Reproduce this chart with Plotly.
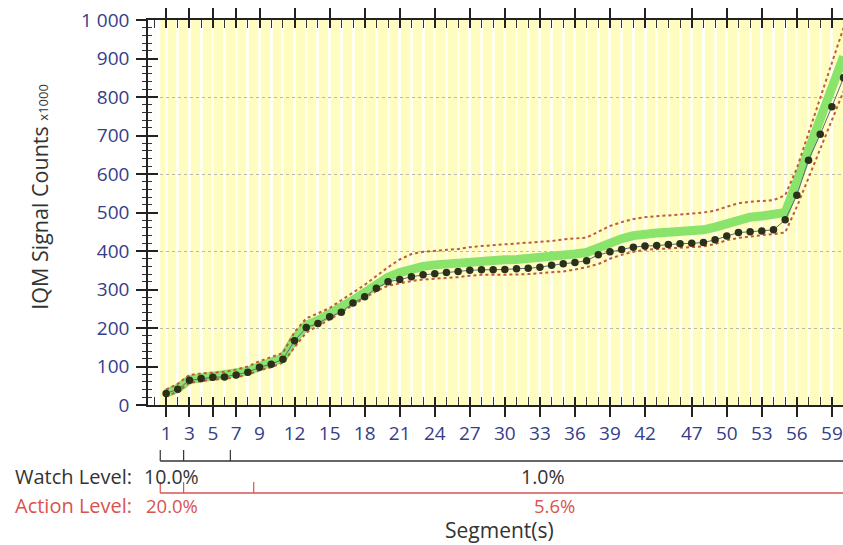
import plotly.graph_objects as go

# ---- data ----
segments = list(range(1, 43)) + list(range(44, 61))  # 59 segments (one number skipped)
label_segments = [1, 3, 5, 7, 9, 12, 15, 18, 21, 24, 27, 30, 33, 36, 39, 42, 47, 50, 53, 56, 59]

measured = [30, 41, 64, 69, 72, 73, 78, 85, 98, 106,
            119, 167, 201, 212, 229, 241, 265, 281, 303, 320,
            326, 333, 338, 341, 344, 347, 350, 351, 351, 352,
            354, 355, 358, 363, 367, 370, 375, 390, 398, 404,
            410, 413, 414, 417, 419, 420, 422, 429, 439, 448,
            450, 452, 455, 481, 545, 636, 703, 775, 850]

expected = [31, 43, 66, 71, 74, 76, 81, 88, 100, 110,
            122, 172, 207, 220, 236, 252, 272, 292, 314, 332,
            344, 353, 360, 364, 367, 370, 373, 375, 376, 377,
            378, 380, 382, 385, 388, 392, 396, 410, 422, 432,
            440, 445, 447, 449, 451, 452, 455, 462, 470, 482,
            488, 491, 494, 500, 580, 665, 747, 828, 905]

upper = [40, 55, 78, 82, 84, 86, 92, 100, 114, 124,
         135, 190, 225, 238, 252, 272, 292, 312, 335, 358,
         378, 392, 398, 401, 403, 405, 410, 413, 415, 417,
         419, 421, 423, 426, 430, 432, 435, 450, 465, 475,
         483, 488, 490, 492, 494, 497, 500, 505, 515, 524,
         528, 530, 532, 545, 615, 706, 797, 888, 980]

lower = [22, 35, 58, 63, 66, 68, 72, 79, 90, 98,
         110, 150, 188, 205, 222, 240, 260, 278, 296, 310,
         316, 322, 326, 328, 330, 332, 336, 338, 338, 338,
         339, 340, 342, 344, 347, 352, 358, 366, 380, 390,
         398, 403, 405, 406, 408, 410, 412, 418, 428, 434,
         438, 441, 444, 448, 515, 590, 665, 740, 815]

watch_zone_starts = [1, 3, 7]
watch_zone_labels = ["10.0%", "", "1.0%"]
action_zone_starts = [1, 3, 9]
action_zone_labels = ["20.0%", "", "5.6%"]

# ---- derived positions ----
xpos = list(range(len(segments)))
tickvals = [segments.index(s) for s in label_segments]
ticktext = [str(s) for s in label_segments]
zone_end = len(segments)  # bracket end (beyond visible area)

FONT = "Open Sans"
TICKCOL = "#363d8a"
RED = "#bf5a3a"

fig = go.Figure()

fig.add_trace(go.Scatter(x=xpos, y=expected, mode="lines",
                         line=dict(color="#8ae36a", width=9), hoverinfo="skip"))
fig.add_trace(go.Scatter(x=xpos, y=upper, mode="lines",
                         line=dict(color=RED, width=2, dash="3px,3px"), hoverinfo="skip"))
fig.add_trace(go.Scatter(x=xpos, y=lower, mode="lines",
                         line=dict(color=RED, width=2, dash="3px,3px"), hoverinfo="skip"))
fig.add_trace(go.Scatter(x=xpos, y=measured, mode="lines+markers",
                         customdata=segments,
                         hovertemplate="Segment %{customdata}: %{y}<extra></extra>",
                         line=dict(color="#5b6690", width=1),
                         marker=dict(color="#2b3118", size=7.5)))

y_range = [0, 1000]
x_range = [-1.55, 57.95]

# yellow plot background starting half a segment before the first
fig.add_shape(type="rect", xref="x", yref="y", x0=-0.5, x1=zone_end, y0=y_range[0], y1=y_range[1],
              fillcolor="#fffcc0", line_width=0, layer="below")

def add_zones(starts, labels, color, y_line, y_tick, y_text, size):
    idx_starts = [segments.index(s) - 0.5 for s in starts]
    fig.add_shape(type="line", xref="x", yref="paper", x0=idx_starts[0], x1=zone_end,
                  y0=y_line, y1=y_line, line=dict(color=color, width=1.5))
    for i, xs in enumerate(idx_starts):
        fig.add_shape(type="line", xref="x", yref="paper", x0=xs, x1=xs,
                      y0=y_line, y1=y_tick, line=dict(color=color, width=1.2))
        xe = idx_starts[i + 1] if i + 1 < len(idx_starts) else zone_end
        if labels[i]:
            fig.add_annotation(x=(xs + xe) / 2, y=y_text, xref="x", yref="paper",
                               text=labels[i], showarrow=False,
                               font=dict(family=FONT, size=size, color=color),
                               xanchor="center", yanchor="middle")

add_zones(watch_zone_starts, watch_zone_labels, "#333333", -0.1455, -0.117, -0.187, 19.5)
add_zones(action_zone_starts, action_zone_labels, "#d9534f", -0.2286, -0.200, -0.262, 18.5)

fig.add_annotation(x=-0.194, y=-0.187, xref="paper", yref="paper", text="Watch Level:",
                   showarrow=False, xanchor="left", yanchor="middle",
                   font=dict(family=FONT, size=20, color="#333333"))
fig.add_annotation(x=-0.194, y=-0.262, xref="paper", yref="paper", text="Action Level:",
                   showarrow=False, xanchor="left", yanchor="middle",
                   font=dict(family=FONT, size=20, color="#d9534f"))
fig.add_annotation(x=0.506, y=-0.366, xref="paper", yref="paper", text="Segment(s)",
                   showarrow=False, xanchor="center", yanchor="bottom",
                   font=dict(family=FONT, size=21, color="#333333"))
fig.add_annotation(x=-0.156, y=0.54, xref="paper", yref="paper",
                   text="IQM Signal Counts <span style='font-size:13px'>x1000</span>",
                   textangle=-90, showarrow=False, xanchor="center", yanchor="middle",
                   font=dict(family=FONT, size=21.5, color="#333333"))

axis_common = dict(range=x_range, showgrid=False, zeroline=False)

fig.update_layout(
    width=843, height=545,
    margin=dict(l=148, r=0, t=20, b=140),
    paper_bgcolor="white", plot_bgcolor="white",
    showlegend=False,
    font=dict(family=FONT, color=TICKCOL),
    xaxis=dict(**axis_common, tickmode="array", tickvals=tickvals, ticktext=ticktext,
               ticks="outside", ticklen=10, tickwidth=1.5, tickcolor="#222",
               showline=True, linecolor="#222", linewidth=1.5, mirror="ticks",
               tickfont=dict(family=FONT, size=19, color=TICKCOL),
               minor=dict(tickmode="linear", tick0=0, dtick=1, ticks="inside", ticklen=8,
                          tickwidth=1.2, tickcolor="#333",
                          showgrid=True, gridcolor="#fffff0", gridwidth=3)),
    xaxis2=dict(**axis_common, overlaying="x", anchor="y", side="bottom",
                tickmode="array", tickvals=tickvals, ticks="inside", ticklen=8,
                tickwidth=1.5, tickcolor="#222", showticklabels=False, mirror="ticks"),
    yaxis=dict(range=y_range, tickmode="linear", tick0=0, dtick=100,
               ticks="outside", ticklen=10, tickwidth=1.5, tickcolor="#222",
               showline=True, linecolor="#222", linewidth=1.5, showgrid=False, zeroline=False,
               tickformat=",d", ticklabelstandoff=3,
               tickfont=dict(family=FONT, size=19, color=TICKCOL),
               minor=dict(tickmode="linear", tick0=0, dtick=20, ticks="outside", ticklen=4,
                          tickwidth=1.2, tickcolor="#333")),
    yaxis2=dict(range=y_range, overlaying="y", side="left", anchor="x",
                tickmode="linear", tick0=0, dtick=100, ticks="inside", ticklen=10,
                tickwidth=1.5, tickcolor="#222", showticklabels=False, showgrid=False,
                zeroline=False,
                minor=dict(tickmode="linear", tick0=0, dtick=20, ticks="inside", ticklen=4,
                           tickwidth=1.2, tickcolor="#333")),
    yaxis3=dict(range=y_range, overlaying="y", side="left", anchor="x",
                tickmode="array", tickvals=[200, 400, 600, 800], ticks="",
                showticklabels=False, showgrid=True, gridcolor="#b8b8a8", gridwidth=1,
                griddash="dot", zeroline=False),
    separators=". ",
)

# hidden helper traces so overlay axes are rendered
fig.add_trace(go.Scatter(x=[None], y=[None], xaxis="x2", yaxis="y2", showlegend=False))
fig.add_trace(go.Scatter(x=[None], y=[None], xaxis="x", yaxis="y3", showlegend=False))

fig.write_html("out.html")
